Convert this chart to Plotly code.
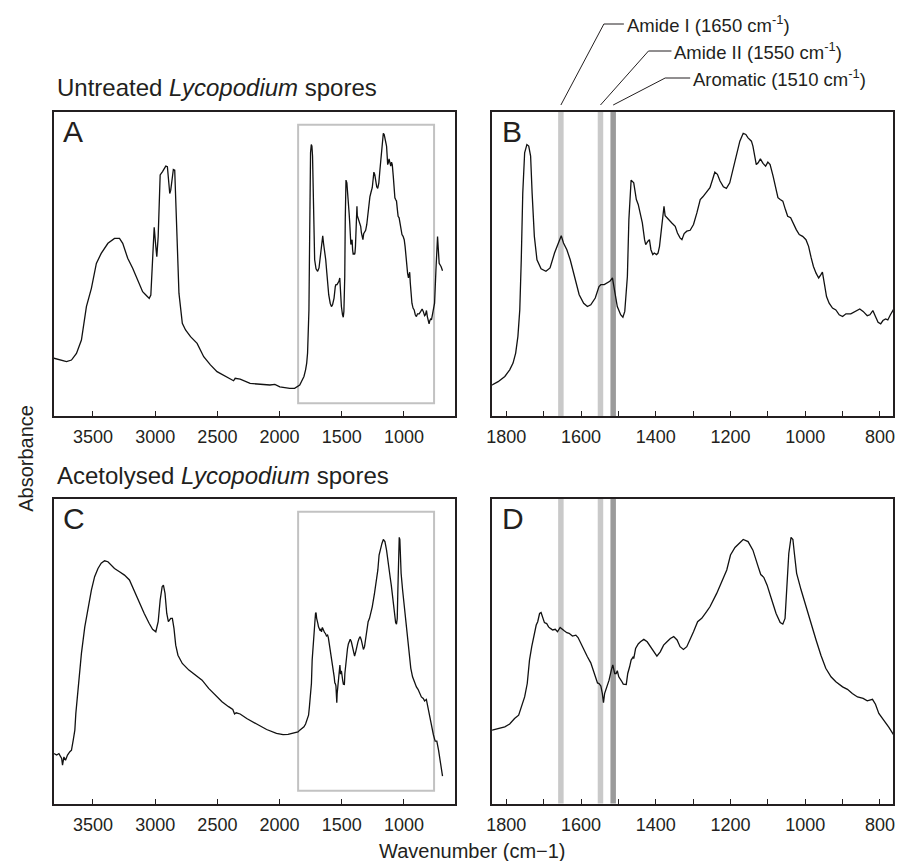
import plotly.graph_objects as go

# ---------------- data ----------------
UNTREATED_WN = [
    3814, 3713, 3673, 3633, 3593, 3553, 3513, 3473, 3434, 3380, 3327, 3287, 3261, 3221, 3181,
    3141, 3101, 3075, 3048, 3035, 3021, 3008, 2995, 2987, 2976, 2960, 2941, 2915, 2902, 2883,
    2875, 2854, 2843, 2827, 2809, 2782, 2756, 2716, 2689, 2663, 2610, 2556, 2503, 2450, 2397,
    2370, 2357, 2317, 2237, 2158, 2078, 2038, 1998, 1918, 1879,
    1838, 1822, 1804, 1791, 1782, 1775, 1769, 1764, 1760, 1756, 1751, 1745, 1740, 1735, 1731,
    1725, 1718, 1707, 1694, 1683, 1671, 1660, 1653, 1647, 1638, 1629, 1620, 1611, 1605, 1593,
    1583, 1574, 1562, 1552, 1547, 1538, 1530, 1523, 1516, 1510, 1503, 1494, 1488, 1483, 1476,
    1472, 1466, 1459, 1452, 1447, 1441, 1436, 1430, 1427, 1421, 1417, 1413, 1408, 1404, 1398,
    1394, 1390, 1385, 1381, 1378, 1375, 1366, 1357, 1348, 1342, 1335, 1330, 1324, 1317, 1308,
    1299, 1290, 1281, 1274, 1265, 1255, 1248, 1242, 1235, 1228, 1219, 1211, 1202, 1193, 1184,
    1175, 1166, 1159, 1153, 1144, 1140, 1135, 1131, 1126, 1120, 1113, 1106, 1100, 1094, 1086,
    1079, 1073, 1067, 1060, 1053, 1047, 1039, 1033, 1024, 1016, 1007, 998, 991, 984, 978,
    971, 964, 958, 954, 949, 943, 936, 927, 918, 909, 900, 891, 878, 865, 854,
    845, 834, 827, 819, 812, 805, 798, 792, 785, 779, 772, 763,
    754, 743, 730, 717, 701, 690,
]
UNTREATED_ABS = [
    19.0, 17.9, 18.4, 20.6, 25.0, 36.0, 42.0, 50.2, 53.5, 56.8, 58.4, 58.4, 56.8, 51.9, 48.6,
    44.7, 40.9, 39.8, 38.7, 39.8, 51.3, 62.1, 55.7, 52.4, 59.0, 79.3, 80.4, 82.2, 82.0, 73.2,
    74.3, 81.1, 80.9, 59.0, 40.4, 30.5, 28.3, 26.1, 25.0, 23.9, 19.5, 16.8, 14.6, 13.5, 12.4,
    11.6, 12.4, 12.1, 10.7, 10.4, 10.2, 10.4, 9.6, 9.1, 9.1,
    10.2, 11.3, 13.0, 15.2, 17.4, 20.7, 26.2, 34.9, 51.4, 73.4, 86.6, 89.3, 88.8, 85.5, 73.4,
    59.1, 51.4, 48.4, 47.6, 48.7, 53.6, 56.9, 59.3, 56.9, 54.7, 51.4, 47.0, 42.6, 39.9, 37.1,
    36.0, 36.6, 38.8, 42.6, 43.2, 43.2, 43.7, 44.3, 45.4, 40.4, 36.0, 33.3, 32.5, 34.4, 45.9,
    64.6, 77.6, 76.7, 71.2, 69.6, 66.8, 63.5, 58.0, 56.4, 57.5, 58.0, 54.7, 53.1, 53.6, 53.1,
    53.6, 55.8, 61.3, 66.8, 69.0, 65.9, 64.6, 63.5, 62.4, 60.2, 58.6, 58.0, 60.0, 60.8, 61.1,
    63.0, 66.8, 71.2, 72.1, 73.6, 75.1, 77.8, 80.2, 79.5, 77.3, 75.4, 74.9, 76.7, 81.1, 86.0,
    90.4, 93.0, 92.6, 91.5, 90.4, 88.8, 85.5, 82.7, 83.3, 84.6, 83.1, 82.2, 83.5, 82.7, 78.9,
    74.5, 71.8, 71.2, 70.7, 67.9, 65.7, 65.2, 63.5, 61.3, 59.7, 59.1, 58.0, 55.8, 52.0, 49.2,
    47.0, 45.4, 46.5, 47.3, 43.7, 39.3, 37.1, 35.5, 34.9, 33.3, 32.7, 33.6, 33.6, 34.4, 35.2,
    34.4, 33.0, 33.3, 34.7, 32.7, 30.8, 30.3, 31.4, 31.9, 31.6, 33.3, 35.2,
    37.1, 48.0, 59.0, 50.2, 49.1, 47.8,
]

ACETOLYSED_WN = [
    3814, 3792, 3774, 3752, 3745, 3734, 3721, 3705, 3686, 3673, 3659, 3646, 3638, 3620, 3593,
    3566, 3540, 3513, 3487, 3460, 3434, 3407, 3380, 3354, 3327, 3287, 3247, 3207, 3168, 3128,
    3088, 3048, 3021, 2995, 2976, 2960, 2944, 2934, 2921, 2907, 2894, 2875, 2862, 2849, 2835,
    2817, 2782, 2729, 2676, 2623, 2570, 2517, 2463, 2410, 2376, 2362, 2349, 2317, 2264, 2184,
    2104, 2025, 1972, 1932, 1892, 1852,
    1838, 1822, 1804, 1791, 1778, 1767, 1760, 1751, 1744, 1738, 1732, 1726, 1720, 1716, 1711,
    1707, 1702, 1698, 1692, 1687, 1682, 1676, 1669, 1663, 1656, 1651, 1645, 1638, 1632, 1623,
    1614, 1608, 1601, 1592, 1583, 1574, 1567, 1561, 1556, 1552, 1547, 1543, 1540, 1537, 1531,
    1525, 1519, 1515, 1510, 1506, 1503, 1499, 1492, 1487, 1479, 1475, 1470, 1466, 1460, 1459,
    1454, 1447, 1441, 1432, 1423, 1414, 1405, 1397, 1388, 1379, 1370, 1361, 1352, 1343, 1335,
    1326, 1317, 1308, 1299, 1288, 1277, 1264, 1255, 1237, 1224, 1210, 1200, 1188, 1177, 1166,
    1153, 1140, 1126, 1119, 1111, 1102, 1091, 1078, 1067, 1060, 1054, 1049, 1044, 1038, 1033,
    1029, 1023, 1011, 998, 984, 971, 958, 945, 931, 918, 900, 887, 874, 860, 845,
    834, 820, 812, 803, 789, 776, 763,
    749, 736, 722, 706, 690,
]
ACETOLYSED_ABS = [
    16.4, 15.9, 16.4, 14.8, 12.6, 15.3, 14.2, 15.9, 17.0, 17.5, 20.8, 24.1, 29.6, 38.3, 49.3,
    58.0, 64.6, 70.1, 74.5, 77.2, 78.9, 79.7, 79.4, 78.3, 77.2, 76.1, 75.0, 73.4, 69.6, 65.7,
    62.4, 59.1, 57.2, 56.4, 59.7, 66.8, 71.2, 71.7, 69.0, 62.4, 59.7, 60.8, 60.8, 57.5, 52.0,
    48.7, 46.0, 43.8, 42.2, 40.5, 37.8, 35.6, 33.4, 31.8, 30.9, 29.4, 29.8, 29.4, 27.9, 26.1,
    24.3, 23.0, 22.6, 22.7, 23.0, 23.5,
    24.1, 24.5, 25.2, 26.1, 27.9, 29.0, 31.8, 35.0, 39.4, 47.1, 51.5, 55.3, 58.6, 59.7, 62.4,
    62.7, 60.8, 59.4, 59.1, 58.0, 57.5, 57.0, 57.2, 56.4, 57.8, 57.2, 56.7, 56.1, 55.9, 55.0,
    55.3, 54.5, 52.6, 50.4, 48.2, 46.2, 43.8, 41.6, 39.6, 39.4, 38.6, 36.1, 33.1, 36.1, 38.3,
    40.5, 43.8, 45.5, 42.7, 42.7, 43.6, 41.6, 40.3, 39.2, 39.1, 42.7, 44.9, 47.1, 48.2, 47.6,
    50.9, 52.4, 53.1, 53.9, 53.1, 51.5, 49.8, 48.4, 49.8, 52.0, 53.1, 54.2, 54.8, 53.7, 51.5,
    50.6, 51.5, 53.7, 56.4, 59.7, 60.8, 63.0, 64.6, 69.0, 72.8, 76.7, 81.6, 84.1, 85.4, 86.7,
    86.0, 83.2, 77.8, 75.2, 74.3, 71.7, 67.4, 62.4, 59.4, 58.9, 60.8, 70.1, 82.1, 87.4, 86.7,
    82.1, 75.6, 70.1, 64.6, 59.1, 53.7, 48.7, 44.4, 41.6, 40.0, 38.3, 37.5, 36.1, 35.0, 34.5,
    33.7, 34.2, 32.6, 29.6, 27.4, 25.0, 22.5,
    20.5, 20.5, 17.5, 13.7, 9.0,
]

FULL_RANGE = [3813, 590]
ZOOM_RANGE = [1838, 765]
ZOOM_BOX = [1851, 758]
FULL_TICKS = [3500, 3000, 2500, 2000, 1500, 1000]
ZOOM_TICKS = [1800, 1600, 1400, 1200, 1000, 800]
ZOOM_MINOR_TICKS = [1700, 1500, 1300, 1100, 900]

BAND_WN = [1654, 1548, 1514]
BAND_COLORS = ["#c9c9c9", "#c9c9c9", "#9b9b9b"]
BAND_LABELS = ["Amide I (1650 cm<sup>-1</sup>)",
               "Amide II (1550 cm<sup>-1</sup>)",
               "Aromatic (1510 cm<sup>-1</sup>)"]
# leader geometry in pixels relative to band top: (elbow dx, elbow dy, end dx)
LEADERS = [(43, 88, 63), (48, 61, 71), (52, 34, 77)]

TITLES = ["Untreated <i>Lycopodium</i> spores", "Acetolysed <i>Lycopodium</i> spores"]
LETTERS = ["A", "B", "C", "D"]

# ---------------- layout helpers ----------------
W, H = 898, 861
FONT = "Liberation Sans, Arial, Helvetica, sans-serif"
INK = "#231f20"


def px(x):
    return x / W


def py(y):
    return 1 - y / H


XL = [px(48.5), px(453)]
XR = [px(490.5), px(895)]
YT = [py(416), py(112)]
YB = [py(803.5), py(499)]

fig = go.Figure()
panels = [
    ("x", "y", UNTREATED_WN, UNTREATED_ABS),
    ("x2", "y2", UNTREATED_WN, UNTREATED_ABS),
    ("x3", "y3", ACETOLYSED_WN, ACETOLYSED_ABS),
    ("x4", "y4", ACETOLYSED_WN, ACETOLYSED_ABS),
]
for xa, ya, xs, ys in panels:
    fig.add_trace(go.Scatter(x=xs, y=ys, xaxis=xa, yaxis=ya, mode="lines",
                             line=dict(color="#111111", width=1.3),
                             showlegend=False, hoverinfo="skip", cliponaxis=True))

common_x = dict(showline=True, mirror=True, linecolor=INK, linewidth=1.5,
                ticks="inside", ticklen=5, tickwidth=1.2, tickcolor=INK,
                showgrid=False, zeroline=False, ticklabelstandoff=4,
                tickfont=dict(family=FONT, size=18, color=INK))
zoom_minor = dict(tickvals=ZOOM_MINOR_TICKS, ticks="inside", ticklen=5, tickwidth=1.2,
                  tickcolor=INK, showgrid=False)
common_y = dict(showline=True, mirror=True, linecolor=INK, linewidth=1.5,
                ticks="", showticklabels=False, showgrid=False, zeroline=False,
                range=[0, 100])

layout = dict(
    width=W, height=H, margin=dict(l=0, r=0, t=0, b=0),
    paper_bgcolor="white", plot_bgcolor="white",
    font=dict(family=FONT, color=INK),
    xaxis=dict(domain=XL, anchor="y", range=FULL_RANGE, tickvals=FULL_TICKS, **common_x),
    xaxis2=dict(domain=XR, anchor="y2", range=ZOOM_RANGE, tickvals=ZOOM_TICKS,
                minor=zoom_minor, **common_x),
    xaxis3=dict(domain=XL, anchor="y3", range=FULL_RANGE, tickvals=FULL_TICKS, **common_x),
    xaxis4=dict(domain=XR, anchor="y4", range=ZOOM_RANGE, tickvals=ZOOM_TICKS,
                minor=zoom_minor, **common_x),
    yaxis=dict(domain=YT, anchor="x", **common_y),
    yaxis2=dict(domain=YT, anchor="x2", **common_y),
    yaxis3=dict(domain=YB, anchor="x3", **common_y),
    yaxis4=dict(domain=YB, anchor="x4", **common_y),
)
fig.update_layout(**layout)

shapes = []
# zoom-region boxes in A and C
for xa, ya in [("x", "y"), ("x3", "y3")]:
    shapes.append(dict(type="rect", xref=xa, yref=ya + " domain",
                       x0=ZOOM_BOX[0], x1=ZOOM_BOX[1], y0=0.042, y1=0.958,
                       line=dict(color="#c2c2c2", width=2), layer="below"))
# bands in B and D
for xa, ya in [("x2", "y2"), ("x4", "y4")]:
    for wn, col in zip(BAND_WN, BAND_COLORS):
        shapes.append(dict(type="line", xref=xa, yref=ya + " domain",
                           x0=wn, x1=wn, y0=0, y1=1,
                           line=dict(color=col, width=5.5), layer="below"))
# leader lines
for wn, (edx, edy, endx) in zip(BAND_WN, LEADERS):
    shapes.append(dict(type="line", xref="x2", xsizemode="pixel", xanchor=wn,
                       x0=0, x1=edx, yref="paper", ysizemode="pixel", yanchor=YT[1],
                       y0=7, y1=edy, line=dict(color=INK, width=1)))
    shapes.append(dict(type="line", xref="x2", xsizemode="pixel", xanchor=wn,
                       x0=edx, x1=endx, yref="paper", ysizemode="pixel", yanchor=YT[1],
                       y0=edy, y1=edy, line=dict(color=INK, width=1)))
fig.update_layout(shapes=shapes)

ann = []
for wn, (edx, edy, endx), label in zip(BAND_WN, LEADERS, BAND_LABELS):
    ann.append(dict(xref="x2", yref="paper", x=wn, y=YT[1], xshift=endx + 1, yshift=edy,
                    text=label, showarrow=False, xanchor="left", yanchor="middle",
                    font=dict(family=FONT, size=18.5, color=INK)))
# panel titles
ann.append(dict(xref="paper", yref="paper", x=px(49), y=py(87), text=TITLES[0],
                showarrow=False, xanchor="left", yanchor="middle",
                font=dict(family=FONT, size=24, color=INK)))
ann.append(dict(xref="paper", yref="paper", x=px(49), y=py(475), text=TITLES[1],
                showarrow=False, xanchor="left", yanchor="middle",
                font=dict(family=FONT, size=24, color=INK)))
# panel letters
for letter, (lx, ly) in zip(LETTERS, [(55, 132), (498, 132), (55, 518), (498, 518)]):
    ann.append(dict(xref="paper", yref="paper", x=px(lx), y=py(ly), text=letter,
                    showarrow=False, xanchor="left", yanchor="middle",
                    font=dict(family=FONT, size=30, color=INK)))
# axis titles
ann.append(dict(xref="paper", yref="paper", x=px(471), y=py(851), text="Wavenumber (cm\u22121)",
                showarrow=False, xanchor="center", yanchor="middle",
                font=dict(family=FONT, size=20, color=INK)))
ann.append(dict(xref="paper", yref="paper", x=px(20), y=py(458), text="Absorbance",
                textangle=-90, showarrow=False, xanchor="center", yanchor="middle",
                font=dict(family=FONT, size=20, color=INK)))
fig.update_layout(annotations=ann)

# remove the default page margin so the figure fills the 898x861 window exactly
fig.write_html("out.html", config={"displayModeBar": False}, post_script=[
    "document.body.style.margin='0px';"
    "document.documentElement.style.overflow='hidden';"
    "document.body.style.overflow='hidden';"
])
